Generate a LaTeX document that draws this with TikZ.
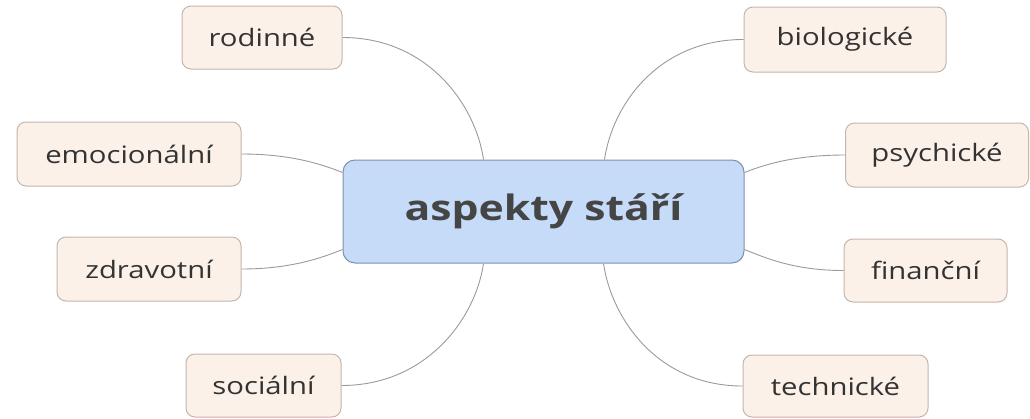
\documentclass[tikz,border=0pt]{standalone}
\usepackage{fontspec}
\setmainfont{Open Sans}[FakeStretch=1.22]
\usetikzlibrary{calc}
\definecolor{leaffill}{HTML}{FCF1E8}
\definecolor{leafdraw}{HTML}{C4B6AC}
\definecolor{cfill}{HTML}{C6DBF8}
\definecolor{cdraw}{HTML}{7F8FAE}
\definecolor{txt}{HTML}{333333}
\definecolor{ctxt}{HTML}{454545}
\definecolor{conn}{HTML}{9A9A9A}
\begin{document}
\begin{tikzpicture}[x=1pt,y=-1pt,
  leaf/.style={draw=leafdraw, fill=leaffill, line width=1pt, rounded corners=9pt,
    inner sep=0pt, text=txt, font=\fontsize{24}{28}\selectfont},
  central/.style={draw=cdraw, fill=cfill, line width=1pt, rounded corners=12pt,
    inner sep=0pt, text=ctxt, font=\fontsize{35}{40}\selectfont\bfseries,
    minimum width=401pt, minimum height=103pt},
  link/.style={draw=conn, line width=0.9pt}]
\useasboundingbox (0,0) rectangle (1030,418);
\node[central] (c) at (543.5,211.5) {aspekty stáří};
\node[leaf, minimum width=160pt, minimum height=63pt] (rod) at (262,37.5) {rodinné};
\node[leaf, minimum width=224pt, minimum height=64pt] (emo) at (129,154) {emocionální};
\node[leaf, minimum width=184pt, minimum height=64pt] (zdr) at (149,269) {zdravotní};
\node[leaf, minimum width=155pt, minimum height=63pt] (soc) at (263.5,385.5) {sociální};
\node[leaf, minimum width=202pt, minimum height=65pt] (bio) at (845,39.5) {biologické};
\node[leaf, minimum width=183pt, minimum height=64pt] (psy) at (937,155) {psychické};
\node[leaf, minimum width=163pt, minimum height=63pt] (fin) at (925.5,270.5) {finanční};
\node[leaf, minimum width=185pt, minimum height=62pt] (tec) at (835.5,386) {technické};
\coordinate (cTL) at ($(c.north)+(-60,0)$);
\coordinate (cTR) at ($(c.north)+(61,0)$);
\coordinate (cBL) at ($(c.south)+(-60,0)$);
\coordinate (cBR) at ($(c.south)+(60,0)$);
\coordinate (cLU) at ($(c.west)+(0,-39)$);
\coordinate (cLD) at ($(c.west)+(0,38)$);
\coordinate (cRU) at ($(c.east)+(0,-39)$);
\coordinate (cRD) at ($(c.east)+(0,38)$);
\begin{scope}[on background layer/.try]
\end{scope}
\draw[link] (rod.east) .. controls ($(rod.east)+(85,0)$) and ($(cTL)+(-8,-55)$) .. (cTL);
\draw[link] (emo.east) .. controls ($(emo.east)+(50,0)$) and ($(cLU)+(-20,-8)$) .. (cLU);
\draw[link] (zdr.east) .. controls ($(zdr.east)+(50,0)$) and ($(cLD)+(-20,8)$) .. (cLD);
\draw[link] (soc.east) .. controls ($(soc.east)+(85,0)$) and ($(cBL)+(-8,55)$) .. (cBL);
\draw[link] (bio.west) .. controls ($(bio.west)+(-85,0)$) and ($(cTR)+(8,-55)$) .. (cTR);
\draw[link] (psy.west) .. controls ($(psy.west)+(-50,0)$) and ($(cRU)+(20,-8)$) .. (cRU);
\draw[link] (fin.west) .. controls ($(fin.west)+(-50,0)$) and ($(cRD)+(20,8)$) .. (cRD);
\draw[link] (tec.west) .. controls ($(tec.west)+(-85,0)$) and ($(cBR)+(8,55)$) .. (cBR);
\end{tikzpicture}
\end{document}
